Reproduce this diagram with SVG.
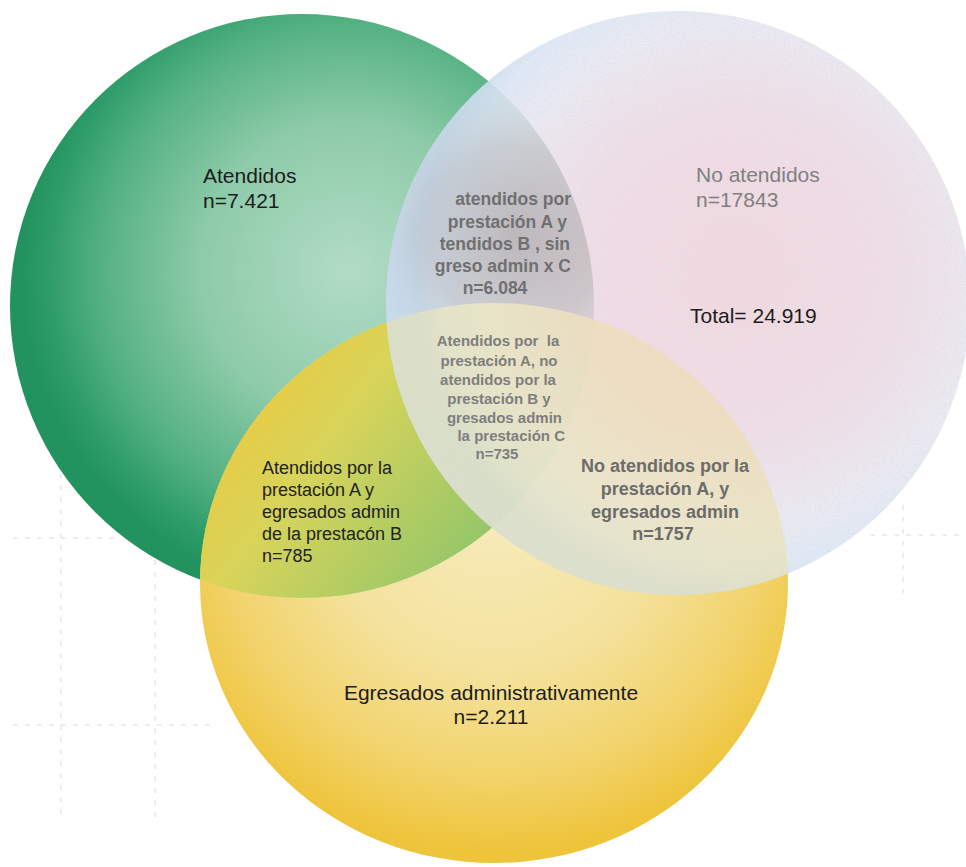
<svg xmlns="http://www.w3.org/2000/svg" width="966" height="867" viewBox="0 0 966 867">
  <defs>
    <radialGradient id="gGreen" cx="0.58" cy="0.44" r="0.56">
      <stop offset="0" stop-color="#b2dcc5"/>
      <stop offset="0.45" stop-color="#8ecbaa"/>
      <stop offset="0.75" stop-color="#56b283"/>
      <stop offset="0.92" stop-color="#2d9c69"/>
      <stop offset="1" stop-color="#22925f"/>
    </radialGradient>
    <radialGradient id="gYellow" cx="0.5" cy="0.38" r="0.6">
      <stop offset="0" stop-color="#f6ebba"/>
      <stop offset="0.45" stop-color="#f4e29e"/>
      <stop offset="0.78" stop-color="#f2d36a"/>
      <stop offset="1" stop-color="#eec43a"/>
    </radialGradient>
    <linearGradient id="gLens" gradientUnits="userSpaceOnUse" x1="215" y1="380" x2="470" y2="570">
      <stop offset="0" stop-color="#eec73a"/>
      <stop offset="0.4" stop-color="#d8d45a"/>
      <stop offset="1" stop-color="#92c66a"/>
    </linearGradient>
    <radialGradient id="gWhite" cx="0.6" cy="0.45" r="0.55">
      <stop offset="0" stop-color="#f4d2d9"/>
      <stop offset="0.5" stop-color="#f1d9df"/>
      <stop offset="0.78" stop-color="#ebe8ef"/>
      <stop offset="0.92" stop-color="#dde7f3"/>
      <stop offset="1" stop-color="#cadcf2"/>
    </radialGradient>
    <radialGradient id="gGrey" gradientUnits="userSpaceOnUse" cx="515" cy="235" r="150">
      <stop offset="0" stop-color="#9e9698" stop-opacity="0.55"/>
      <stop offset="0.6" stop-color="#aaa6aa" stop-opacity="0.35"/>
      <stop offset="1" stop-color="#c4ccd6" stop-opacity="0.05"/>
    </radialGradient>
    <clipPath id="clipYellow">
      <ellipse cx="494" cy="583" rx="294" ry="280"/>
    </clipPath>
    <clipPath id="clipWhite">
      <circle cx="678" cy="303" r="292"/>
    </clipPath>
    <mask id="maskTop" maskUnits="userSpaceOnUse" x="0" y="0" width="966" height="867">
      <circle cx="678" cy="303" r="292" fill="#ffffff"/>
      <ellipse cx="494" cy="583" rx="294" ry="280" fill="#000000"/>
    </mask>
    <filter id="speckle" x="0" y="0" width="100%" height="100%">
      <feTurbulence type="fractalNoise" baseFrequency="0.9" numOctaves="2" seed="4" result="n"/>
      <feColorMatrix in="n" type="matrix" values="0 0 0 0 0.66  0 0 0 0 0.74  0 0 0 0 0.88  0 0 0 2.4 -1.05" result="spk"/>
      <feComposite in="spk" in2="SourceGraphic" operator="in" result="spk2"/>
      <feMerge>
        <feMergeNode in="SourceGraphic"/>
        <feMergeNode in="spk2"/>
      </feMerge>
    </filter>
  </defs>
  <style>
    text { font-family: "Liberation Sans", Arial, sans-serif; }
    .main { font-size: 21px; fill: #1c1c1c; }
    .grey { font-size: 21px; fill: #808080; }
    .sub { font-size: 18px; fill: #222222; }
    .lensTop { font-size: 17.5px; font-weight: bold; fill: #707070; }
    .lensMid { font-size: 15px; font-weight: bold; fill: #7e7e7e; }
    .lensRight { font-size: 18px; font-weight: bold; fill: #6c6c6c; }
    .grid { stroke: #dadada; stroke-width: 1; stroke-dasharray: 5 7; fill: none; }
  </style>
  <rect x="0" y="0" width="966" height="867" fill="#ffffff"/>

  <g id="paper-grid">
    <line class="grid" x1="61" y1="473" x2="61" y2="820"/>
    <line class="grid" x1="155" y1="560" x2="155" y2="820"/>
    <line class="grid" x1="13" y1="538" x2="120" y2="538"/>
    <line class="grid" x1="13" y1="725" x2="215" y2="725"/>
    <line class="grid" x1="870" y1="535" x2="966" y2="535"/>
    <line class="grid" x1="903" y1="505" x2="903" y2="600"/>
  </g>

  <g id="set-atendidos">
    <circle cx="302" cy="306" r="292" fill="url(#gGreen)"/>
  </g>
  <g id="set-egresados">
    <ellipse cx="494" cy="583" rx="294" ry="280" fill="url(#gYellow)"/>
    <circle cx="302" cy="306" r="292" fill="url(#gLens)" clip-path="url(#clipYellow)"/>
  </g>
  <g id="set-no-atendidos">
    <circle cx="678" cy="303" r="292" fill="url(#gWhite)" fill-opacity="0.9" filter="url(#speckle)"/>
    <ellipse cx="494" cy="583" rx="294" ry="280" fill="#efe3a0" fill-opacity="0.42" clip-path="url(#clipWhite)"/>
    <circle cx="302" cy="306" r="292" fill="url(#gGrey)" mask="url(#maskTop)"/>
  </g>
  <g id="connectors"/>

  <g id="label-atendidos">
    <text class="main" x="203" y="183">Atendidos</text>
    <text class="main" x="203" y="208">n=7.421</text>
  </g>
  <g id="label-no-atendidos">
    <text class="grey" x="696" y="182">No atendidos</text>
    <text class="grey" x="696" y="207">n=17843</text>
  </g>
  <g id="label-total">
    <text class="main" x="690" y="323">Total= 24.919</text>
  </g>
  <g id="label-egresados">
    <text class="main" x="491" y="700" text-anchor="middle">Egresados administrativamente</text>
    <text class="main" x="491" y="724" text-anchor="middle">n=2.211</text>
  </g>
  <g id="label-atendidos-egresados">
    <text class="sub" x="262" y="474">Atendidos por la</text>
    <text class="sub" x="262" y="496">prestación A y</text>
    <text class="sub" x="262" y="518">egresados admin</text>
    <text class="sub" x="262" y="540">de la prestacón B</text>
    <text class="sub" x="262" y="562">n=785</text>
  </g>
  <g id="label-atendidos-no-atendidos">
    <text class="lensTop" x="571" y="205" text-anchor="end">atendidos por</text>
    <text class="lensTop" x="567" y="228" text-anchor="end">prestación A y</text>
    <text class="lensTop" x="570" y="250" text-anchor="end">tendidos B , sin</text>
    <text class="lensTop" x="571" y="272" text-anchor="end">greso admin x C</text>
    <text class="lensTop" x="495" y="294" text-anchor="middle">n=6.084</text>
  </g>
  <g id="label-triple">
    <text class="lensMid" x="498" y="346" text-anchor="middle" style="white-space:pre">Atendidos por  la</text>
    <text class="lensMid" x="499" y="366" text-anchor="middle">prestación A, no</text>
    <text class="lensMid" x="498" y="385" text-anchor="middle">atendidos por la</text>
    <text class="lensMid" x="499" y="404" text-anchor="middle">prestación B y</text>
    <text class="lensMid" x="562" y="423" text-anchor="end">gresados admin</text>
    <text class="lensMid" x="565" y="441" text-anchor="end">la prestación C</text>
    <text class="lensMid" x="497" y="459" text-anchor="middle">n=735</text>
  </g>
  <g id="label-no-atendidos-egresados">
    <text class="lensRight" x="665" y="472" text-anchor="middle">No atendidos por la</text>
    <text class="lensRight" x="665" y="495" text-anchor="middle">prestación A, y</text>
    <text class="lensRight" x="665" y="518" text-anchor="middle">egresados admin</text>
    <text class="lensRight" x="663" y="540" text-anchor="middle">n=1757</text>
  </g>
</svg>
